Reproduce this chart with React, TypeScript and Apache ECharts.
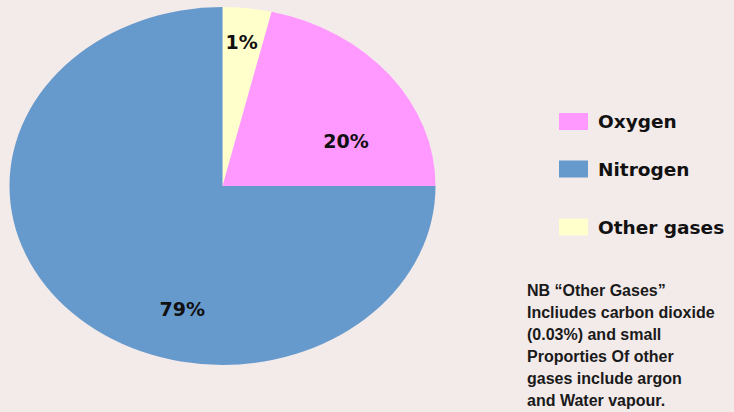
import React, { useEffect, useRef } from "react";
import * as echarts from "echarts";

// Slices listed clockwise from 12 o'clock
const categories = ["Other gases", "Oxygen", "Nitrogen"];
// Angular shares as drawn in the picture (percent of full turn)
const shares = [3.7, 21.3, 75];
// Percent labels as printed on the chart
const percentLabels = ["1%", "20%", "79%"];
const colors = ["#ffffcc", "#ff99ff", "#6699cc"];

// Legend order
const legendNames = ["Oxygen", "Nitrogen", "Other gases"];

const noteLines = [
  "NB \u201COther Gases\u201D",
  "Incliudes carbon dioxide",
  "(0.03%) and small",
  "Proporties Of other",
  "gases include argon",
  "and Water vapour.",
];

// styling / layout (not data)
const CX = 222.5;
const CY = 186;
const RX = 213;
const RY = 179;
const labelPlace = [
  { ang: -83.6, r: 0.81 },
  { ang: -23.4, r: 0.632 },
  { ang: 105.4, r: 0.712 },
];
const legendY = [121.5, 169, 227];

export default function App() {
  const ref = useRef<HTMLDivElement>(null);
  useEffect(() => {
    document.body.style.margin = "0";
    const chart = echarts.init(ref.current!, null, { renderer: "svg" });
    const total = shares.reduce((a, b) => a + b, 0);
    const data = categories.map((name, i) => ({ name, value: shares[i] }));
    const option: any = {
      animation: false,
      backgroundColor: "#f3eaea",
      series: [
        {
          type: "custom",
          coordinateSystem: "none",
          silent: true,
          data,
          renderItem: (params: any, api: any) => {
            const i = params.dataIndex;
            let before = 0;
            for (let k = 0; k < i; k++) before += shares[k];
            const start = -Math.PI / 2 + (before / total) * Math.PI * 2;
            const end = start + (api.value(0) / total) * Math.PI * 2;
            const lp = labelPlace[i];
            const a = (lp.ang * Math.PI) / 180;
            return {
              type: "group",
              children: [
                {
                  type: "sector",
                  x: CX,
                  y: CY,
                  scaleX: RX / RY,
                  scaleY: 1,
                  shape: { cx: 0, cy: 0, r0: 0, r: RY, startAngle: start, endAngle: end, clockwise: true },
                  style: { fill: colors[i], stroke: "none" },
                },
                {
                  type: "text",
                  x: CX + Math.cos(a) * RX * lp.r,
                  y: CY + Math.sin(a) * RY * lp.r,
                  style: {
                    text: percentLabels[i],
                    fill: "#111",
                    fontSize: 19,
                    fontWeight: "bold",
                    fontFamily: "DejaVu Sans",
                    align: "center",
                    verticalAlign: "middle",
                  },
                },
              ],
            };
          },
        },
      ],
      graphic: [
        ...legendNames.flatMap((name, j) => {
          const idx = categories.indexOf(name);
          return [
            {
              type: "rect",
              left: 559,
              top: legendY[j] - 8.5,
              shape: { width: 29, height: 17 },
              style: { fill: colors[idx] },
            },
            {
              type: "text",
              x: 598,
              y: legendY[j],
              style: {
                text: name,
                fill: "#111",
                fontSize: 18.5,
                fontWeight: "bold",
                fontFamily: "DejaVu Sans",
                verticalAlign: "middle",
              },
            },
          ];
        }),
        ...noteLines.map((t, k) => ({
          type: "text",
          x: 527,
          y: 290 + k * 22,
          style: {
            text: t,
            fill: "#1a1a1a",
            fontSize: 16,
            fontWeight: "bold",
            fontFamily: "Liberation Sans",
            verticalAlign: "middle",
          },
        })),
      ],
    };
    chart.setOption(option);
    return () => chart.dispose();
  }, []);
  return <div ref={ref} style={{ width: 734, height: 412 }} />;
}
